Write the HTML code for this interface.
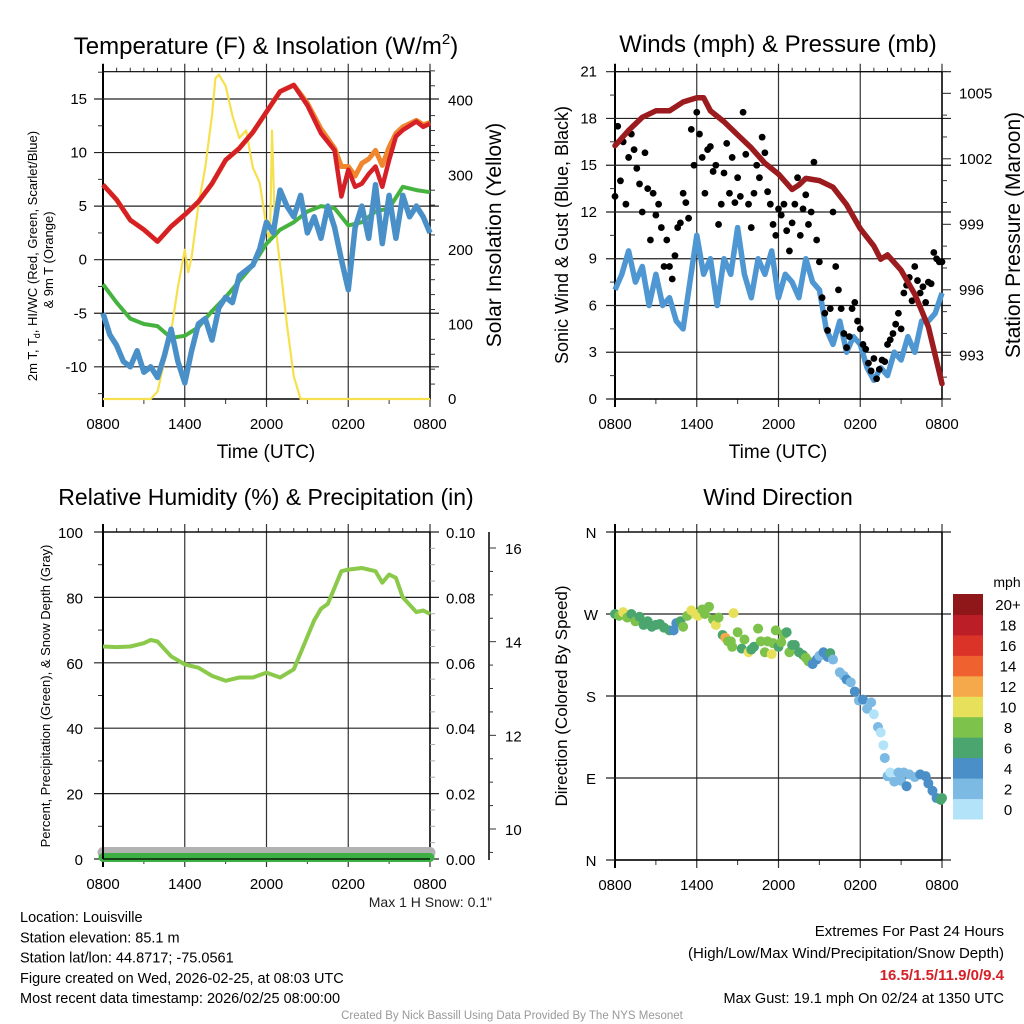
<!DOCTYPE html>
<html><head><meta charset="utf-8"><style>
html,body{margin:0;padding:0;background:#fff;}
svg{display:block;font-family:"Liberation Sans",sans-serif;}
</style></head><body>
<svg id="chart" width="1024" height="1024" viewBox="0 0 1024 1024" xmlns="http://www.w3.org/2000/svg"></svg>
<script>
// ---------- data ----------
const timeTicks = ["0800","1400","2000","0200","0800"];
// temperature panel
const tempT   = [0,1,2,3,4,5,6,7,8,9,10,11,12,13,14,15,16,17,17.5,18,18.5,19,19.5,20,20.5,21,21.5,22,23,23.5,24];
const tempRed = [7,5.6,3.7,2.8,1.7,3.1,4.2,5.4,7.1,9.3,10.4,11.9,13.8,15.7,16.3,14.4,11.8,10.2,5.9,8.4,6.8,7.1,8.0,8.7,6.8,9.3,11.5,12.1,12.9,12.4,12.7];
const temp9m  = [7,5.6,3.7,2.8,1.7,3.1,4.2,5.4,7.1,9.3,10.4,11.9,13.8,15.7,16.3,14.6,12.2,10.4,8.7,8.7,7.8,9.0,9.4,10.2,8.8,10.5,11.8,12.4,13.0,12.6,12.8];
const dewT    = [0,1,2,3,4,5,6,7,8,9,10,11,12,13,14,15,16,17,18,19,20,21,22,23,24];
const dewVal  = [-2.3,-4,-5.5,-6,-6.2,-7.3,-7.1,-6.3,-4.8,-3.5,-2,-0.5,1.5,2.8,3.5,4.5,5,4.8,3.2,3.5,4.5,4.8,6.8,6.5,6.3];
const wcT     = [0,0.5,1,1.5,2,2.5,3,3.5,4,4.5,5,5.5,6,6.5,7,7.5,8,8.5,9,9.5,10,10.5,11,11.5,12,12.5,13,13.5,14,14.5,15,15.5,16,16.5,17,17.5,18,18.5,19,19.5,20,20.5,21,21.5,22,22.5,23,23.5,24];
const wcVal   = [-5,-7,-8,-9.5,-10,-8.5,-10.5,-10,-11,-9,-6.5,-9.5,-11.5,-8.5,-6,-5.5,-7.5,-4.5,-3.5,-4,-1.5,-1,-0.5,1,3.5,2.5,6.5,5,4,6,2.5,4,2,5,3,0,-2.8,3,5,2,7,1.5,6,2,6,4,5,4,2.5];
const solT    = [0,3.5,4,4.5,5,5.5,6,6.25,6.5,7,7.5,8,8.25,8.5,9,9.5,10,10.5,11,11.5,12,12.25,12.4,12.6,13,13.5,14,14.5,24];
const solVal  = [0,0,10,50,90,150,200,170,190,260,310,380,430,435,420,380,350,360,310,290,230,210,360,240,180,100,30,0,0];
const tempTicks = [-10,-5,0,5,10,15];
const solTicks  = [0,100,200,300,400];
// wind panel
const windT   = [0,0.5,1,1.5,2,2.5,3,3.5,4,4.5,5,5.5,6,6.5,7,7.5,8,8.5,9,9.5,10,10.5,11,11.5,12,12.5,13,13.5,14,14.5,15,15.5,16,16.5,17,17.5,18,18.5,19,19.5,20,20.5,21,21.5,22,22.5,23,23.5,24];
const windVal = [7,8,9.5,7.5,8.5,6,8,6,6.5,5,4.5,7.5,10.5,8,9,6,9,8,11,8,6.5,9,8,9.5,6.5,8,7.5,6.5,9,7.5,7,4.5,3.5,5,3,4,3.5,2,1.2,2,1.5,3,2.5,4,3,5,5,5.5,6.8];
const gustVal = [13,17.5,14,16.5,12.5,15.5,17,16,14.8,13.8,12,15.8,13.5,10.2,13.2,11.8,12.5,11,8.5,10.2,8.5,7.7,9.2,11,11.3,13.2,12.6,11.6,17.3,15,18.4,17,15.5,13.2,16,16.2,14.6,15,11.2,12.5,14.5,16.4,13.2,15.5,12.6,14.2,13,18.4,15.7,12.5,11,13.2,15,14.2,16.8,15.8,13.3,12.5,11.2,10.5,12.2,11.8,12.5,10.8,9.5,11.3,12.5,14.2,10.5,12.2,13.1,11.2,12,15.2,10.2,8.8,6.5,5.5,4.4,5.8,12,8.5,7,5.8,4.2,3.3,4,5.8,6.2,5,4.5,3.5,3.2,2.3,1.8,2.6,1.3,1.9,2.5,2.4,3.5,3.8,4.2,4.8,5.5,4.5,6.8,7.3,7.8,6.3,8.5,7.6,6.8,7.2,6.2,7.5,7.4,9.4,9,8.8,8.8];
const presT   = [0,1,2,3,4,5,6,6.5,7,8,9,10,11,12,13,13.5,14,15,16,17,18,19,19.5,20,21,22,23,24];
const presVal = [1002.6,1003.3,1003.9,1004.2,1004.2,1004.6,1004.8,1004.8,1004.2,1003.7,1003.1,1002.5,1001.8,1001.3,1000.6,1000.8,1001.1,1001.0,1000.7,999.9,998.8,998.0,997.4,997.6,996.9,995.8,994.3,991.7];
const windTicks = [0,3,6,9,12,15,18,21];
const presTicks = [993,996,999,1002,1005];
// humidity panel
const rhT   = [0,1,2,3,3.5,4,5,6,7,8,9,10,11,12,13,14,15,15.5,16,16.5,17,17.5,18,19,20,20.5,21,21.5,22,23,23.5,24];
const rhVal = [65,64.8,65,66,67,66.5,62,59.5,58.5,56,54.5,55.5,55.5,57,55.5,58,68,73,76.5,78,83,88,88.5,89,88,84.5,87,86,80,75.5,76,75];
const rhTicks = [0,20,40,60,80,100];
const precipTicks = ["0.00","0.02","0.04","0.06","0.08","0.10"];
const snowTicks = [10,12,14,16];
const precipVal = 0, snowVal = 9.35;
// wind direction panel
const dirT = [0,0.3,0.6,0.9,1.2,1.5,1.8,2.1,2.4,2.7,3,3.3,3.6,4,4.3,4.5,4.8,5,5.3,5.6,5.9,6.1,6.4,6.6,6.9,7.2,7.4,7.6,7.9,8.1,8.3,8.5,8.6,8.7,9,9.3,9.5,9.8,10,10.2,10.5,10.7,11,11.2,11.5,11.6,11.8,12,12.2,12.4,12.6,12.8,13,13.2,13.5,13.8,14,14.2,14.5,14.8,15,15.3,15.6,15.8,16,16.5,16.8,17,17.3,17.6,17.9,18.2,18.5,18.8,19,19.3,19.5,19.7,19.8,20,20.2,20.5,20.8,21,21.2,21.4,21.6,22,22.4,22.8,23,23.3,23.6,23.9,24];
const dirDeg = [270,268,272,266,270,262,267,258,262,256,258,259,255,252,252,260,262,256,268,274,270,268,275,270,278,264,258,266,247,244,240,240,234,271,250,232,242,228,231,234,254,240,228,240,226,238,252,234,239,248,250,228,236,236,228,225,222,218,215,220,224,228,223,227,220,206,202,198,195,185,175,176,166,173,160,146,140,126,112,92,96,86,96,87,96,81,94,91,94,92,84,76,68,66,68];
const dirSpd = [7,8,10,8,6,8,6,6,6,6,7,6,6,6,4,4,6,8,8,10,10,10,8,8,8,8,10,8,6,12,8,8,8,10,8,6,8,10,6,6,8,8,8,8,10,8,8,6,8,8,6,8,6,6,6,6,8,8,4,4,2,4,4,6,2,2,2,4,2,4,2,4,2,2,0,2,0,0,2,2,0,2,2,2,2,4,2,2,4,4,4,4,4,6,6];
const dirTicks = ["N","E","S","W","N"];
const speedLabels = ["0","2","4","6","8","10","12","14","16","18","20+"];
const speedColors = ["#b3e3f9","#7cbae3","#4a8fc7","#4aa56f","#7cc24b","#e7e05a","#f5a94a","#ef612e","#dc3328","#bb1e26","#8f1619"];

// ---------- helpers ----------
const NS="http://www.w3.org/2000/svg";
const svg=document.getElementById('chart');
function mk(tag,attrs,parent){const e=document.createElementNS(NS,tag);for(const k in attrs)e.setAttribute(k,attrs[k]);(parent||svg).appendChild(e);return e;}
function txt(x,y,s,size,anchor,parent,extra){const t=mk('text',Object.assign({x:x,y:y,'font-size':size,'text-anchor':anchor||'middle',fill:'#000'},extra||{}),parent);t.textContent=s;return t;}
function pts(xs,ys,fx,fy){return xs.map((v,i)=>fx(v).toFixed(1)+','+fy(ys[i]).toFixed(1)).join(' ');}
const HPX=327/24;
function panelX(x0){return h=>x0+h*HPX;}
function linY(v0,y0,v1,y1){return v=>y0+(v-v0)*(y1-y0)/(v1-v0);}

function frame(g,x0,yTop,yBot,hVals,fy,name){
  const fx=panelX(x0);
  for(let i=0;i<=4;i++){const x=fx(i*6);
    const l=mk('line',{x1:x,x2:x,y1:yTop-8,y2:yBot+8,stroke:i==0?'#000':'#333','stroke-width':i==0?2:1.2},g);
    
    
    const t=txt(x,yBot+30,timeTicks[i],15,'middle',g);
    
    
  }
  for(let i=0;i<24;i++){ if(i%6==0)continue;
    mk('line',{x1:fx(i),x2:fx(i),y1:yTop-4,y2:yTop,stroke:'#333'},g);
    if(i%3==0) mk('line',{x1:fx(i),x2:fx(i),y1:yBot,y2:yBot+5,stroke:'#333'},g);}
  hVals.forEach(v=>{const y=fy(v);
    const l=mk('line',{x1:x0-9,x2:x0+327+9,y1:y,y2:y,stroke:'#222','stroke-width':1.2},g);
    
    
  });
  mk('line',{x1:x0,x2:x0+327,y1:yTop,y2:yTop,stroke:'#000','stroke-width':1.2},g);
  mk('line',{x1:x0,x2:x0+327,y1:yBot,y2:yBot,stroke:'#000','stroke-width':1.5},g);
  mk('line',{x1:x0+327,x2:x0+327,y1:yTop,y2:yBot,stroke:'#000','stroke-width':1.5},g);
}

// ---------- Panel 1: temperature ----------
(function(){
  const g=mk('g',{});
  
  
  const fx=panelX(103), fy=linY(0,259.7,15,99), fs=linY(0,399,400,100.7);
  frame(g,103,71.7,399,tempTicks,fy,'temp');
  for(let v=-12.5;v<=17.5;v+=2.5){ if(v%5==0)continue; mk('line',{x1:98,x2:103,y1:fy(v),y2:fy(v),stroke:'#333'},g);}
  for(let v=0;v<=440;v+=20){ if(v%100==0)continue; mk('line',{x1:430,x2:435,y1:fs(v),y2:fs(v),stroke:'#333'},g);}
  tempTicks.forEach(v=>{const t=txt(87,fy(v)+5,String(v),15,'end',g);
    
    });
  solTicks.forEach(v=>{const t=txt(448,fs(v)+5,String(v),15,'start',g);
    
    });
  const sol=mk('polyline',{points:pts(solT,solVal,fx,fs),fill:'none',stroke:'#f7e04e','stroke-width':2.2,'stroke-linejoin':'round'},g);
  
  
  const dew=mk('polyline',{points:pts(dewT,dewVal,fx,fy),fill:'none',stroke:'#46b340','stroke-width':4,'stroke-linejoin':'round'},g);
  
  
  const wc=mk('polyline',{points:pts(wcT,wcVal,fx,fy),fill:'none',stroke:'#4a90c8','stroke-width':5.5,'stroke-linejoin':'round'},g);
  
  
  const t9=mk('polyline',{points:pts(tempT,temp9m,fx,fy),fill:'none',stroke:'#f0862e','stroke-width':5,'stroke-linejoin':'round'},g);
  
  
  const t2=mk('polyline',{points:pts(tempT,tempRed,fx,fy),fill:'none',stroke:'#d42026','stroke-width':4.5,'stroke-linejoin':'round'},g);
  
  
  const ti=txt(266,54,'Temperature (F) & Insolation (W/m',24,'middle',g);
  const sup=mk('tspan',{'font-size':15,dy:-10},ti); sup.textContent='2';
  const cl=mk('tspan',{dy:10},ti); cl.textContent=')';
  
  
  const yl=txt(0,0,'2m T, T',13,'middle',g,{transform:'translate(37,256) rotate(-90)'});
  const sub=mk('tspan',{'font-size':9,dy:3},yl); sub.textContent='d';
  const r=mk('tspan',{dy:-3},yl); r.textContent=', HI/WC (Red, Green, Scarlet/Blue)';
  
  
  const yl2=txt(0,0,'& 9m T (Orange)',13,'middle',g,{transform:'translate(53,260) rotate(-90)'});
  
  
  const yr=txt(0,0,'Solar Insolation (Yellow)',21,'middle',g,{transform:'translate(501,235) rotate(-90)'});
  
  
  const xl=txt(266,458,'Time (UTC)',19,'middle',g);
  
  
})();

// ---------- Panel 2: winds ----------
(function(){
  const g=mk('g',{});
  
  
  const fx=panelX(615), fy=linY(0,399,21,71.7), fp=linY(1005,93.3,993,355.3);
  frame(g,615,71.7,399,windTicks,fy,'wind');
  for(let v=1.5;v<21;v+=3) mk('line',{x1:610,x2:615,y1:fy(v),y2:fy(v),stroke:'#333'},g);
  for(let v=992;v<=1006;v+=1){ if(presTicks.includes(v))continue; mk('line',{x1:942,x2:947,y1:fp(v),y2:fp(v),stroke:'#333'},g);}
  presTicks.forEach(v=>{const y=fp(v);
    mk('line',{x1:942,x2:951,y1:y,y2:y,stroke:'#222'},g);
    const t=txt(959,y+5,String(v),15,'start',g);
    
    });
  windTicks.forEach(v=>{const t=txt(597,fy(v)+5,String(v),15,'end',g);
    
    });
  const w=mk('polyline',{points:pts(windT,windVal,fx,fy),fill:'none',stroke:'#4f97d2','stroke-width':5.5,'stroke-linejoin':'round'},g);
  
  
  gustVal.forEach((v,i)=>{
    const c=mk('circle',{cx:fx(i*24/(gustVal.length-1)),cy:fy(v),r:3.4,fill:'#000'},g);
    
    
  });
  const p=mk('polyline',{points:pts(presT,presVal,fx,fp),fill:'none',stroke:'#9b1b1e','stroke-width':5.5,'stroke-linejoin':'round','stroke-linecap':'round'},g);
  
  
  const ti=txt(778,52,'Winds (mph) & Pressure (mb)',24,'middle',g);
  
  
  const yl=txt(0,0,'Sonic Wind & Gust (Blue, Black)',18,'middle',g,{transform:'translate(568,235) rotate(-90)'});
  
  
  const yr=txt(0,0,'Station Pressure (Maroon)',21,'middle',g,{transform:'translate(1020,235) rotate(-90)'});
  
  
  const xl=txt(778,458,'Time (UTC)',19,'middle',g);
  
  
})();

// ---------- Panel 3: humidity ----------
(function(){
  const g=mk('g',{});
  
  
  const fx=panelX(103), fy=linY(0,859,100,532), fsn=linY(10,829,16,548);
  frame(g,103,532,859,rhTicks,fy,'rh');
  for(let v=10;v<100;v+=20){ mk('line',{x1:98,x2:103,y1:fy(v),y2:fy(v),stroke:'#333'},g);}
  for(let v=5;v<100;v+=5){ if(v%20==0)continue; mk('line',{x1:430,x2:435,y1:fy(v),y2:fy(v),stroke:'#aaa'},g);}
  rhTicks.forEach((v,i)=>{const y=fy(v);
    const t=txt(83,y+6,String(v),15,'end',g);
    
    
    const t2=txt(446,y+6,precipTicks[i],15,'start',g);
    
    });
  const sa=mk('line',{x1:489,x2:489,y1:532,y2:860,stroke:'#000','stroke-width':1.5},g);
  
  
  for(let v=9.5;v<=16.5;v+=0.5){ if(fsn(v)<532||fsn(v)>860)continue; const major=snowTicks.includes(v);
    mk('line',{x1:489,x2:major?496:493,y1:fsn(v),y2:fsn(v),stroke:'#333'},g);}
  snowTicks.forEach(v=>{const t=txt(505,fsn(v)+6,String(v),15,'start',g);
    
    });
  const sn=mk('line',{x1:fx(0),x2:fx(24),y1:fy(2),y2:fy(2),stroke:'#b2b2b2','stroke-width':11,'stroke-linecap':'round'},g);
  
  
  const pr=mk('line',{x1:fx(0),x2:fx(24),y1:fy(precipVal)-1.5,y2:fy(precipVal)-1.5,stroke:'#3cb043','stroke-width':9,'stroke-linecap':'round'},g);
  
  
  mk('line',{x1:103,x2:430,y1:859,y2:859,stroke:'#000','stroke-width':1.2},g);
  mk('line',{x1:103,x2:103,y1:532,y2:859,stroke:'#000','stroke-width':2},g);
  const rh=mk('polyline',{points:pts(rhT,rhVal,fx,fy),fill:'none',stroke:'#8bc94a','stroke-width':4,'stroke-linejoin':'round'},g);
  
  
  const ti=txt(266,505,'Relative Humidity (%) & Precipitation (in)',23,'middle',g);
  
  
  const yl=txt(0,0,'Percent, Precipitation (Green), & Snow Depth (Gray)',13,'middle',g,{transform:'translate(50,696) rotate(-90)'});
  
  
  const ms=txt(492,907,'Max 1 H Snow: 0.1"',14,'end',g,{fill:'#222'});
  
  
})();

// ---------- Panel 4: wind direction ----------
(function(){
  const g=mk('g',{});
  
  
  const fx=panelX(615), fy=linY(0,860,360,532);
  frame(g,615,532,860,[0,90,180,270,360],fy,'dir');
  dirTicks.forEach((s,i)=>{const t=txt(591,fy(i*90)+6,s,15,'middle',g);
    
    });
  dirT.forEach((h,i)=>{
    const c=mk('circle',{cx:fx(h),cy:fy(dirDeg[i]),r:5,fill:speedColors[Math.min(10,Math.floor(dirSpd[i]/2))]},g);
    
    
  });
  const ti=txt(778,505,'Wind Direction',23,'middle',g);
  
  
  const yl=txt(0,0,'Direction (Colored By Speed)',17,'middle',g,{transform:'translate(567,696) rotate(-90)'});
  
  
  const lg=mk('g',{},g);
  
  
  const lt=txt(1007,587,'mph',14,'middle',lg);
  
  
  const bh=(819-594)/11;
  speedLabels.forEach((s,i)=>{const y=819-(i+1)*bh;
    const r=mk('rect',{x:953,y:y,width:30,height:bh+0.5,fill:speedColors[i]},lg);
    
    
    const t=txt(1008,y+bh/2+6,s,15,'middle',lg);
    
    
  });
})();

// ---------- footer text ----------
(function(){
  const g=mk('g',{});
  
  
  const left=["Location: Louisville","Station elevation: 85.1 m","Station lat/lon: 44.8717; -75.0561","Figure created on Wed, 2026-02-25, at 08:03 UTC","Most recent data timestamp: 2026/02/25 08:00:00"];
  left.forEach((s,i)=>{const t=txt(20,922+i*20.3,s,14.5,'start',g);
    
    });
  const a=txt(1004,936,'Extremes For Past 24 Hours',15,'end',g);
  
  
  const b=txt(1004,958,'(High/Low/Max Wind/Precipitation/Snow Depth)',15,'end',g);
  
  
  const c=txt(1004,980,'16.5/1.5/11.9/0/9.4',15,'end',g,{fill:'#d42026','font-weight':'bold'});
  
  
  const d=txt(1004,1003,'Max Gust: 19.1 mph On 02/24 at 1350 UTC',14.5,'end',g);
  
  
  const e=txt(512,1019,'Created By Nick Bassill Using Data Provided By The NYS Mesonet',11.5,'middle',g,{fill:'#999'});
  
  
})();
</script>
</body></html>
